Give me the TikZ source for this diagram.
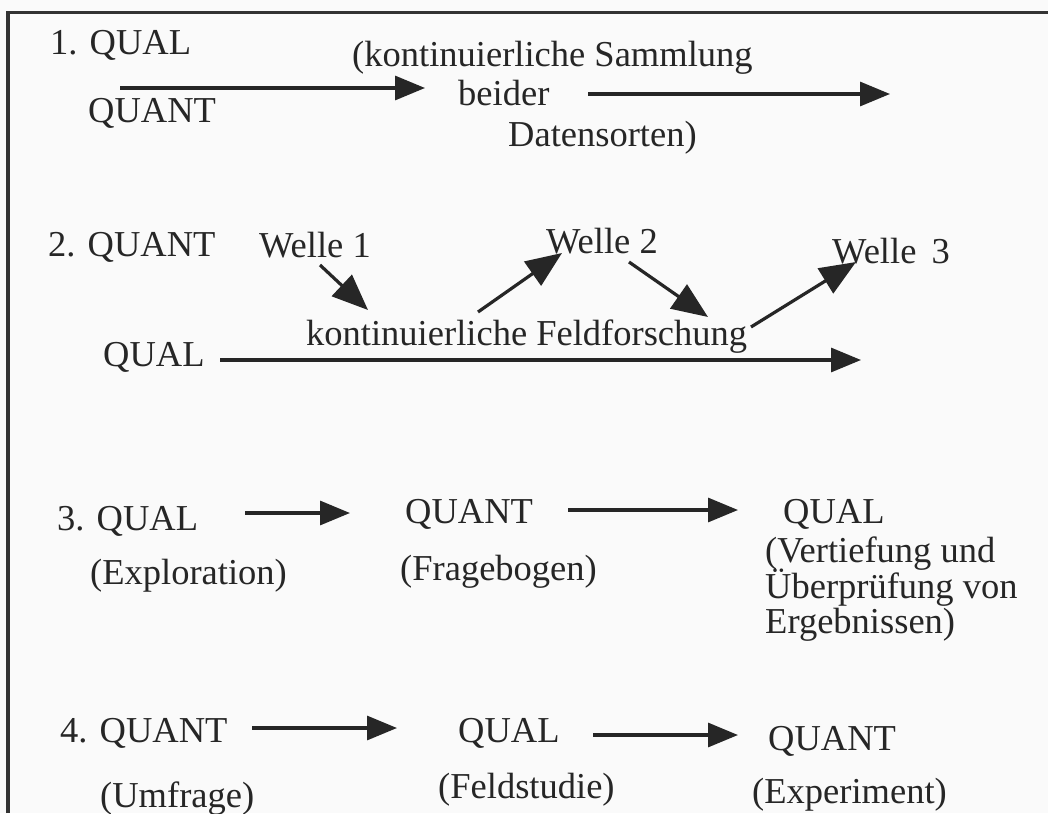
\documentclass[tikz,border=0pt]{standalone}
\usepackage{fontspec}
\setmainfont{Liberation Serif}
\usetikzlibrary{arrows.meta}

\tikzset{
    txt/.style={anchor=base west, inner sep=0pt, text=black!85,
        font=\fontsize{36.5}{40}\selectfont},
    pfeil/.style={draw=black!85, line width=3.2pt,
        -{Triangle[length=30pt,width=24pt]}},
    welle/.style={pfeil, -{Triangle[length=36pt,width=29pt]}},
}

\begin{document}
\begin{tikzpicture}[x=1pt, y=-1pt]
        % 画布与边框
        \fill[white!98!black] (0,0) rectangle (1048,813);
        \useasboundingbox (0,0) rectangle (1048,813);
        \draw[line width=3.5pt, black!80] (8,813) -- (8,12.7) -- (1048,12.7);

        % 第一行
        \node[txt] (qualA) at (50,55) {1. QUAL};
        \node[txt] (quantA) at (88,123) {QUANT};
        \node[txt] (samA) at (352,67) {(kontinuierliche Sammlung};
        \node[txt] (samB) at (458,106) {beider};
        \node[txt] (samC) at (508,147) {Datensorten)};
        \coordinate (a1) at (120,88);
        \coordinate (a2) at (425,88);
        \coordinate (a3) at (588,94);
        \coordinate (a4) at (890,94);
        \draw[pfeil] (a1) -- (a2);
        \draw[pfeil] (a3) -- (a4);

        % 第二行
        \node[txt] (quantB) at (48,256) {2. QUANT};
        \node[txt] (w1) at (259,257) {Welle 1};
        \node[txt] (w2) at (546,253) {Welle 2};
        \node[txt] (w3) at (832,263) {Welle \,3};
        \node[txt] (feld) at (306,345) {kontinuierliche Feldforschung};
        \node[txt] (qualB) at (103,366) {QUAL};
        \coordinate (b1) at (320,265);
        \coordinate (b2) at (368,310);
        \coordinate (b3) at (478,312);
        \coordinate (b4) at (562,253);
        \coordinate (b5) at (629,262);
        \coordinate (b6) at (708,317);
        \coordinate (b7) at (751,327);
        \coordinate (b8) at (856,262);
        \foreach \s/\e in {b1/b2, b3/b4, b5/b6, b7/b8}
            {
                \draw[welle] (\s) -- (\e);
            }
        \coordinate (c1) at (220,360);
        \coordinate (c2) at (861,360);
        \draw[pfeil] (c1) -- (c2);

        % 第三行
        \node[txt] (qualC) at (57,530) {3. QUAL};
        \node[txt] (expl) at (90,584) {(Exploration)};
        \node[txt] (quantC) at (405,523) {QUANT};
        \node[txt] (frag) at (400,580) {(Fragebogen)};
        \node[txt] (qualD) at (783,523) {QUAL};
        \node[txt] (vert) at (765,562) {(Vertiefung und};
        \node[txt] (pruef) at (765,598) {Überprüfung von};
        \node[txt] (erg) at (765,633) {Ergebnissen)};
        \coordinate (d1) at (245,513);
        \coordinate (d2) at (350,513);
        \coordinate (d3) at (568,510);
        \coordinate (d4) at (738,510);
        \draw[pfeil] (d1) -- (d2);
        \draw[pfeil] (d3) -- (d4);

        % 第四行
        \node[txt] (quantD) at (60,742) {4. QUANT};
        \node[txt] (umfr) at (100,807) {(Umfrage)};
        \node[txt] (qualE) at (458,742) {QUAL};
        \node[txt] (fstud) at (438,798) {(Feldstudie)};
        \node[txt] (quantE) at (768,750) {QUANT};
        \node[txt] (exper) at (752,803) {(Experiment)};
        \coordinate (e1) at (252,728);
        \coordinate (e2) at (397,728);
        \coordinate (e3) at (593,735);
        \coordinate (e4) at (738,735);
        \draw[pfeil] (e1) -- (e2);
        \draw[pfeil] (e3) -- (e4);

    \end{tikzpicture}
\end{document}
